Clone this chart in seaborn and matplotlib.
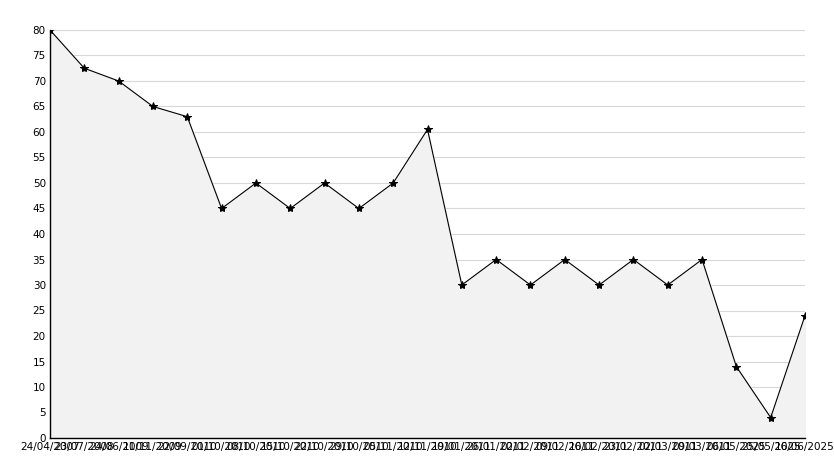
import matplotlib
matplotlib.use("Agg")
import matplotlib.pyplot as plt
import seaborn as sns
import pandas as pd
from matplotlib.ticker import MultipleLocator

# dates on the x axis (the reference labels overlap, best guess)
dates = ["24/04/2007", "23/07/2008", "24/06/2009", "11/11/2009", "22/09/2010",
         "01/10/2010", "08/10/2010", "15/10/2010", "22/10/2010", "29/10/2010",
         "05/11/2010", "12/11/2010", "19/01/2011", "26/01/2011", "02/02/2011",
         "09/02/2011", "16/02/2011", "23/02/2011", "02/03/2011", "09/03/2011",
         "06/05/2025", "25/05/2025", "16/06/2025"]
values = [80, 72.5, 70, 65, 63, 45, 50, 45, 50, 45, 50, 60.5,
          30, 35, 30, 35, 30, 35, 30, 35, 14, 4, 24]

df = pd.DataFrame({"idx": range(len(dates)), "date": dates, "value": values})

sns.set_style("white")
plt.rcParams['font.family'] = ['DejaVu Sans']

fig = plt.figure(figsize=(8.34, 4.68), dpi=100)
ax = fig.add_axes([50 / 834, 30 / 468, 755 / 834, 408 / 468])

ax.fill_between(df["idx"], df["value"], 0, color="#f2f2f2", zorder=1)
sns.lineplot(data=df, x="idx", y="value", ax=ax, color="black", linewidth=0.8,
             marker="*", markersize=6, markeredgecolor="black", zorder=3)

ax.set_xlim(0, len(dates) - 1)
ax.set_ylim(0, 80)
ax.yaxis.set_major_locator(MultipleLocator(5))
ax.yaxis.set_minor_locator(MultipleLocator(1))
ax.set_xticks(df["idx"])
ax.set_xticklabels(df["date"])
ax.grid(axis="y", color="#d8d8d8", linewidth=0.8, zorder=0)
ax.set_axisbelow(True)

for s in ["top", "right"]:
    ax.spines[s].set_visible(False)
for s in ["left", "bottom"]:
    ax.spines[s].set_color("black")
    ax.spines[s].set_linewidth(1)

ax.tick_params(axis="both", which="both", direction="in", colors="black",
               labelsize=7.5, pad=3)
ax.tick_params(axis="both", which="major", length=5)
ax.tick_params(axis="y", which="minor", length=3)
ax.tick_params(axis="x", which="minor", length=0)
ax.set_xlabel("")
ax.set_ylabel("")

fig.savefig("out.png", dpi=100)
